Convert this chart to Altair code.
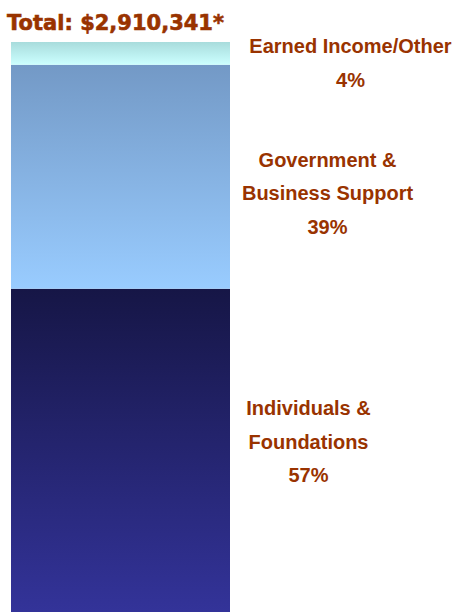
import altair as alt
import pandas as pd

# ---- data ----
categories = ["Individuals & Foundations", "Government & Business Support", "Earned Income/Other"]
shares = [56.7, 39.3, 4.0]          # share of total (%)
pct_labels = ["57%", "39%", "4%"]
label_lines = [["Individuals &", "Foundations"],
               ["Government &", "Business Support"],
               ["Earned Income/Other"]]
stack_order = [0, 1, 2]
total_label = "Total: $2,910,341*"

df = pd.DataFrame({
    "category": categories,
    "share": shares,
    "order": stack_order,
    "label": ["\n".join(lines + [p]) for lines, p in zip(label_lines, pct_labels)],
    "bar": ["Total"] * len(categories),
})

gradients = [
    ("#161646", "#333399"),
    ("#7399c6", "#99ccff"),
    ("#a8dcdc", "#ccffff"),
]
label_dx = [188, 207, 230]
label_dy = [-35, -10, 0]

TEXT_COLOR = "#993300"

xenc = alt.X("bar:N", axis=None, scale=alt.Scale(paddingInner=0, paddingOuter=0))
yscale = alt.Scale(domain=[0, 100], nice=False, zero=True)

base = alt.Chart(df).transform_stack(
    stack="share", groupby=["bar"], as_=["y0", "y1"],
    sort=[alt.SortField("order", order="ascending")]
).transform_calculate(mid="(datum.y0 + datum.y1) / 2")

layers = []
for i, (c0, c1) in enumerate(gradients):
    grad = alt.LinearGradient(
        gradient="linear",
        stops=[alt.GradientStop(color=c0, offset=0), alt.GradientStop(color=c1, offset=1)],
        x1=0, x2=0, y1=0, y2=1,
    )
    bar = base.transform_filter(alt.datum.order == stack_order[i]).mark_bar(
        color=grad, strokeWidth=0
    ).encode(
        x=xenc,
        y=alt.Y("y0:Q", scale=yscale, axis=None),
        y2="y1:Q",
    )
    txt = base.transform_filter(alt.datum.order == stack_order[i]).mark_text(
        align="center", baseline="alphabetic", dx=label_dx[i], dy=label_dy[i],
        lineBreak="\n", lineHeight=33.5, font="Liberation Sans", fontWeight="bold",
        fontSize=20, color=TEXT_COLOR,
    ).encode(
        x=xenc,
        y=alt.Y("mid:Q", scale=yscale, axis=None),
        text="label:N",
    )
    layers += [bar, txt]

title = alt.Chart(pd.DataFrame({"t": [total_label], "bar": ["Total"]})).mark_text(
    align="center", baseline="alphabetic", dx=-5, dy=-12,
    font="DejaVu Sans", fontWeight="bold", fontSize=21, color=TEXT_COLOR,
    stroke=TEXT_COLOR, strokeWidth=0.6,
).encode(
    x=xenc,
    y=alt.datum(100, scale=yscale),
    text="t:N",
)
layers.append(title)

chart = alt.layer(*layers).properties(
    width=219, height=570,
    autosize=alt.AutoSizeParams(type="none"),
    padding={"left": 11, "top": 42, "right": 224, "bottom": 0},
).configure_view(stroke=None)

chart.save("out.html", embed_options={"renderer": "svg", "actions": False})
